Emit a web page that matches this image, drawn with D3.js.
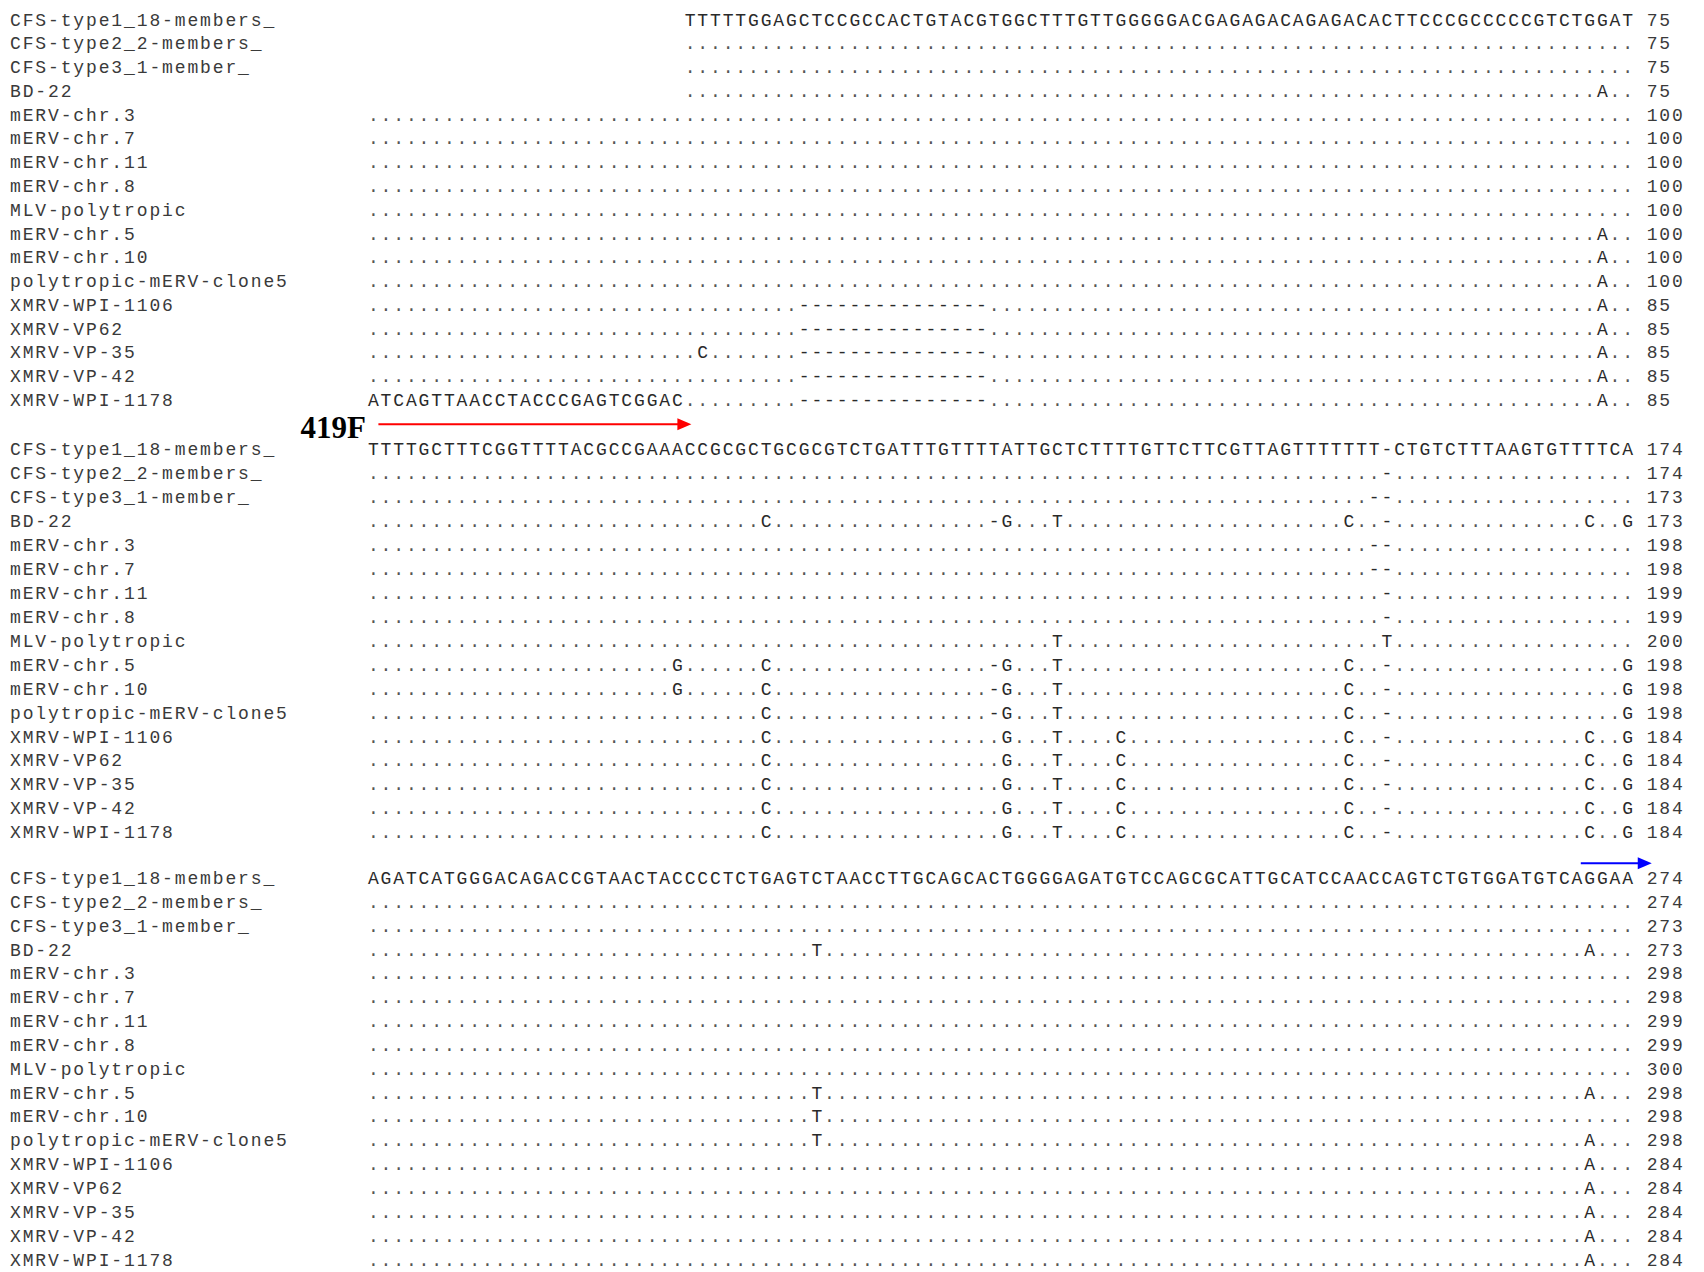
<!DOCTYPE html>
<html>
<head>
<meta charset="utf-8">
<script src="https://cdn.jsdelivr.net/npm/d3@7"></script>
<style>
  body { margin: 0; background: #fff; }
  svg { display: block; }
  .mono { font-family: "Liberation Mono", "DejaVu Sans Mono", monospace; }
</style>
</head>
<body>
<svg id="chart"></svg>
<script>
// sequence names, same order in every block
const seqNames = [
  "CFS-type1_18-members_", "CFS-type2_2-members_", "CFS-type3_1-member_", "BD-22",
  "mERV-chr.3", "mERV-chr.7", "mERV-chr.11", "mERV-chr.8", "MLV-polytropic",
  "mERV-chr.5", "mERV-chr.10", "polytropic-mERV-clone5",
  "XMRV-WPI-1106", "XMRV-VP62", "XMRV-VP-35", "XMRV-VP-42", "XMRV-WPI-1178"
];

// reference sequence (first row) of each block and the column where it starts
const consensus = [
  "TTTTTGGAGCTCCGCCACTGTACGTGGCTTTGTTGGGGGACGAGAGACAGAGACACTTCCCGCCCCCGTCTGGAT",
  "TTTTGCTTTCGGTTTTACGCCGAAACCGCGCTGCGCGTCTGATTTGTTTTATTGCTCTTTTGTTCTTCGTTAGTTTTTTT-CTGTCTTTAAGTGTTTTCA",
  "AGATCATGGGACAGACCGTAACTACCCCTCTGAGTCTAACCTTGCAGCACTGGGGAGATGTCCAGCGCATTGCATCCAACCAGTCTGTGGATGTCAGGAA"
];
const consensusStart = [25, 0, 0];

// first aligned column of each row, block 1 (later blocks start at 0)
const rowStart1 = [25, 25, 25, 25, 0, 0, 0, 0, 0, 0, 0, 0, 0, 0, 0, 0, 0];

// differences from the reference row: column -> shown characters
const gap15 = "---------------";
const diffs1 = [
  {}, {}, {}, {97: "A"},
  {}, {}, {}, {}, {},
  {97: "A"}, {97: "A"}, {97: "A"},
  {34: gap15, 97: "A"},
  {34: gap15, 97: "A"},
  {26: "C", 34: gap15, 97: "A"},
  {34: gap15, 97: "A"},
  {0: "ATCAGTTAACCTACCCGAGTCGGAC", 34: gap15, 97: "A"}
];
const xmrv2 = {31: "C", 50: "G", 54: "T", 59: "C", 77: "C", 80: "-", 96: "C", 99: "G"};
const diffs2 = [
  {}, {80: "-"}, {79: "--"},
  {31: "C", 49: "-G", 54: "T", 77: "C", 80: "-", 96: "C", 99: "G"},
  {79: "--"}, {79: "--"}, {80: "-"}, {80: "-"},
  {54: "T", 80: "T"},
  {24: "G", 31: "C", 49: "-G", 54: "T", 77: "C", 80: "-", 99: "G"},
  {24: "G", 31: "C", 49: "-G", 54: "T", 77: "C", 80: "-", 99: "G"},
  {31: "C", 49: "-G", 54: "T", 77: "C", 80: "-", 99: "G"},
  xmrv2, xmrv2, xmrv2, xmrv2, xmrv2
];
const diffs3 = [
  {}, {}, {}, {35: "T", 96: "A"},
  {}, {}, {}, {}, {},
  {35: "T", 96: "A"}, {35: "T"}, {35: "T", 96: "A"},
  {96: "A"}, {96: "A"}, {96: "A"}, {96: "A"}, {96: "A"}
];

// running position printed at the end of each row
const ends1 = [75, 75, 75, 75, 100, 100, 100, 100, 100, 100, 100, 100, 85, 85, 85, 85, 85];
const ends2 = [174, 174, 173, 173, 198, 198, 199, 199, 200, 198, 198, 198, 184, 184, 184, 184, 184];
const ends3 = [274, 274, 273, 273, 298, 298, 299, 299, 300, 298, 298, 298, 284, 284, 284, 284, 284];

// primer arrows: block, column span
const primers = [
  {name: "419F", block: 0, from: 0.9, to: 25.6, side: "after"},
  {name: "", block: 2, from: 95.8, to: 101.4, side: "before"}
];
const primerColours = ["#ff0000", "#0000ff"];

class AlignmentView {
  constructor(_config) {
    this.config = {
      parentElement: _config.parentElement,
      width: _config.width || 1704,
      height: _config.height || 1272,
      colStart: 367,
      colWidth: 12.67,
      // first / last row centre of each block
      blockRows: [[19.6, 399.9], [448.8, 832.4], [878.1, 1259.5]],
      fontSize: 18,
      labelX: 10
    };
    this.initVis();
  }

  initVis() {
    let vis = this;
    vis.svg = d3.select(vis.config.parentElement)
      .attr("width", vis.config.width)
      .attr("height", vis.config.height);
    vis.svg.append("rect")
      .attr("width", vis.config.width).attr("height", vis.config.height)
      .attr("fill", "#fff");

    // column -> left edge of that character cell
    vis.xScale = d3.scaleLinear()
      .domain([0, 100])
      .range([vis.config.colStart, vis.config.colStart + 100 * vis.config.colWidth]);
    // text line index -> vertical centre of the capitals (piecewise, one piece per block)
    vis.yScale = d3.scaleLinear()
      .domain([0, 16, 18, 34, 36, 52])
      .range(vis.config.blockRows.flat());

    vis.chart = vis.svg.append("g").attr("class", "mono");
  }

  buildRows() {
    let vis = this;
    const diffs = [diffs1, diffs2, diffs3];
    const ends = [ends1, ends2, ends3];
    vis.rows = [];
    vis.cells = [];
    diffs.forEach((blockDiffs, b) => {
      const cons = consensus[b];
      const cStart = consensusStart[b];
      seqNames.forEach((name, r) => {
        const line = b * 18 + r;
        const chars = new Array(100).fill(" ");
        if (r === 0) {
          for (let i = 0; i < cons.length; i++) chars[cStart + i] = cons[i];
        } else {
          const start = b === 0 ? rowStart1[r] : 0;
          for (let c = start; c < 100; c++) chars[c] = ".";
          Object.entries(blockDiffs[r]).forEach(([col, s]) => {
            for (let i = 0; i < s.length; i++) chars[+col + i] = s[i];
          });
        }
        chars.forEach((ch, col) => {
          if (ch !== " ") vis.cells.push({line, col, ch});
        });
        vis.rows.push({line, name, end: ends[b][r]});
      });
    });
  }

  renderVis() {
    let vis = this;
    const cfg = vis.config;
    const base = d => vis.yScale(d.line) + 6;
    const spacing = cfg.colWidth - cfg.fontSize * 0.6;

    vis.chart.selectAll(".label")
      .data(vis.rows)
      .join("text")
      .attr("class", "label")
      .attr("x", cfg.labelX)
      .attr("y", base)
      .attr("font-size", cfg.fontSize)
      .attr("letter-spacing", spacing)
      .attr("fill", "#3a3a3a")
      .text(d => d.name);

    vis.chart.selectAll(".cell")
      .data(vis.cells)
      .join("text")
      .attr("class", "cell")
      .attr("x", d => vis.xScale(d.col) + cfg.colWidth / 2)
      .attr("y", base)
      .attr("text-anchor", "middle")
      .attr("font-size", cfg.fontSize)
      .attr("fill", d => d.ch === "." ? "#555" : "#2a2a2a")
      .text(d => d.ch);

    vis.chart.selectAll(".pos")
      .data(vis.rows)
      .join("text")
      .attr("class", "pos")
      .attr("x", vis.xScale(101))
      .attr("y", base)
      .attr("font-size", cfg.fontSize)
      .attr("letter-spacing", spacing)
      .attr("fill", "#3a3a3a")
      .text(d => d.end);

    // primer arrows
    const primerLine = p => p.side === "after" ? p.block * 18 + 17 : p.block * 18 - 0.65;
    const arrows = vis.svg.selectAll(".primer")
      .data(primers)
      .join("g")
      .attr("class", "primer");
    arrows.append("line")
      .attr("x1", d => vis.xScale(d.from))
      .attr("x2", d => vis.xScale(d.to) - 12)
      .attr("y1", d => vis.yScale(primerLine(d)))
      .attr("y2", d => vis.yScale(primerLine(d)))
      .attr("stroke", (d, i) => primerColours[i])
      .attr("stroke-width", 2);
    arrows.append("path")
      .attr("d", d => {
        const x = vis.xScale(d.to), y = vis.yScale(primerLine(d));
        return `M${x},${y} L${x - 14},${y - 6} L${x - 14},${y + 6} Z`;
      })
      .attr("fill", (d, i) => primerColours[i]);
    arrows.filter(d => d.name)
      .append("text")
      .attr("x", vis.xScale(0) - 1)
      .attr("y", d => vis.yScale(primerLine(d)) + 14)
      .attr("text-anchor", "end")
      .attr("font-family", "'Liberation Serif', 'DejaVu Serif', serif")
      .attr("font-weight", "bold")
      .attr("font-size", 31)
      .attr("fill", "#000")
      .text(d => d.name);
  }
}

const view = new AlignmentView({parentElement: "#chart"});
view.buildRows();
view.renderVis();
</script>
</body>
</html>
